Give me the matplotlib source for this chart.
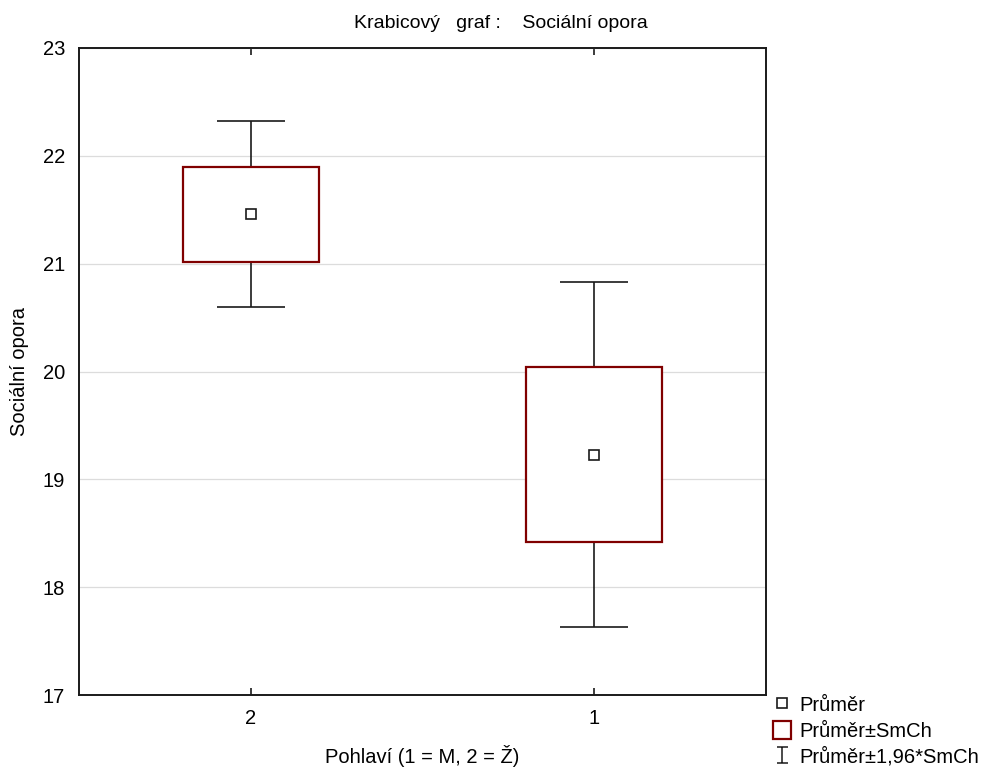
import numpy as np
import matplotlib.pyplot as plt
from matplotlib.path import Path
from matplotlib.lines import Line2D
from matplotlib.patches import Patch

plt.rcParams['font.family'] = ['Liberation Sans', 'DejaVu Sans']

# data (mean and standard error per group)
categories = ['2', '1']
means = [21.46, 19.23]
se = [0.44, 0.815]

box_color = '#800000'
line_color = '#1a1a1a'

fig = plt.figure(figsize=(9.89, 7.69), dpi=100)
ax = fig.add_axes([0.0799, 0.0962, 0.6946, 0.8414])

x = np.arange(len(categories))
means = np.array(means)
se = np.array(se)

# whiskers: mean +- 1.96*SE
ax.errorbar(x, means, yerr=1.96 * se, fmt='none', ecolor=line_color,
            elinewidth=1.2, capsize=24.5, capthick=1.2, zorder=2)
# boxes: mean +- SE
ax.bar(x, 2 * se, bottom=means - se, width=0.396, color='white',
       edgecolor=box_color, linewidth=1.6, zorder=3)
# mean markers
ax.plot(x, means, linestyle='none', marker='s', markersize=7,
        markerfacecolor='white', markeredgecolor=line_color,
        markeredgewidth=1.2, zorder=4)

ax.set_xlim(-0.5, 1.5)
ax.set_ylim(17, 23)
ax.set_xticks(x)
ax.set_xticklabels(categories)
ax.set_yticks(np.arange(17, 24, 1))
ax.tick_params(axis='x', direction='in', top=True, length=5, width=1.2,
               labelsize=14.5, pad=10, color=line_color)
ax.tick_params(axis='y', length=0, labelsize=14.5, pad=10)
ax.grid(axis='y', color='#dcdcdc', linewidth=0.9, zorder=0)
ax.set_axisbelow(True)
for s in ax.spines.values():
    s.set_linewidth(1.4)
    s.set_color(line_color)

fig.text(501 / 989, 1 - 23 / 769, 'Krabicový   graf :    Sociální opora',
         fontsize=14, ha='center', va='center')
ax.set_xlabel('Pohlaví (1 = M, 2 = Ž)', fontsize=14.5, labelpad=12)
ax.set_ylabel('Sociální opora', fontsize=14.5, labelpad=10)

# legend symbols
ibar = Path([(-0.36, -0.5), (0.36, -0.5), (0, -0.5), (0, 0.5), (-0.36, 0.5), (0.36, 0.5)],
            [Path.MOVETO, Path.LINETO, Path.MOVETO, Path.LINETO,
             Path.MOVETO, Path.LINETO])
handles = [
    Line2D([], [], linestyle='none', marker='s', markersize=6.5,
           markerfacecolor='white', markeredgecolor=line_color, markeredgewidth=1.2),
    Patch(facecolor='white', edgecolor=box_color, linewidth=1.6),
    Line2D([], [], linestyle='none', marker=ibar, markersize=11,
           markeredgecolor=line_color, markeredgewidth=1.1),
]
labels = ['Průměr', 'Průměr±SmCh', 'Průměr±1,96*SmCh']
fig.legend(handles, labels, loc='upper left', bbox_to_anchor=(773 / 989, 1 - 695 / 769),
           frameon=False, fontsize=14.5, handlelength=0.9, handleheight=1.0,
           handletextpad=0.4, labelspacing=0.3, borderpad=0, borderaxespad=0)

fig.savefig('out.png', dpi=100)
